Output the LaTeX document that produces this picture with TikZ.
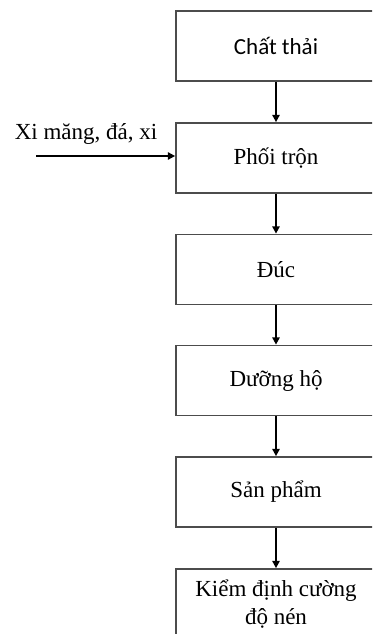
\documentclass[tikz,border=0pt]{standalone}
\usepackage{fontspec}
\setmainfont{Liberation Serif}
\newfontfamily\calib{Carlito}
\usetikzlibrary{arrows.meta}
\begin{document}
\begin{tikzpicture}[x=0.75pt,y=-0.75pt,
  stepbox/.style={draw=black!70,line width=1.3pt,rectangle,minimum width=200*0.75pt,minimum height=70*0.75pt,inner sep=0pt,font=\fontsize{17.25}{21}\selectfont,align=center},
  flow/.style={line width=1.8pt,-{Triangle[length=5.5pt,width=5.5pt]}}]
\useasboundingbox (0,0) rectangle (372,634);
\clip (0,0) rectangle (372,634);
\fill[white] (0,0) rectangle (372,634);
\node[stepbox,font=\calib\fontsize{17.25}{21}\selectfont] (b1) at (276,46) {Chất thải};
\node[stepbox] (b2) at (276,158) {Phối trộn};
\node[stepbox] (b3) at (276,269.5) {Đúc};
\node[stepbox] (b4) at (276,380.5) {Dưỡng hộ};
\node[stepbox] (b5) at (276,492) {Sản phẩm};
\node[stepbox] (b6) at (276,604) {Kiểm định cường\\độ nén};
\node[anchor=base,font=\fontsize{17.25}{21}\selectfont,inner sep=0pt] (lab) at (86,140) {Xi măng, đá, xi};
\coordinate (in) at (36,156);
\draw[flow] (b1) -- (b2);
\draw[flow] (b2) -- (b3);
\draw[flow] (b3) -- (b4);
\draw[flow] (b4) -- (b5);
\draw[flow] (b5) -- (b6);
\draw[flow] (in) -- (in -| b2.west);
\end{tikzpicture}
\end{document}
